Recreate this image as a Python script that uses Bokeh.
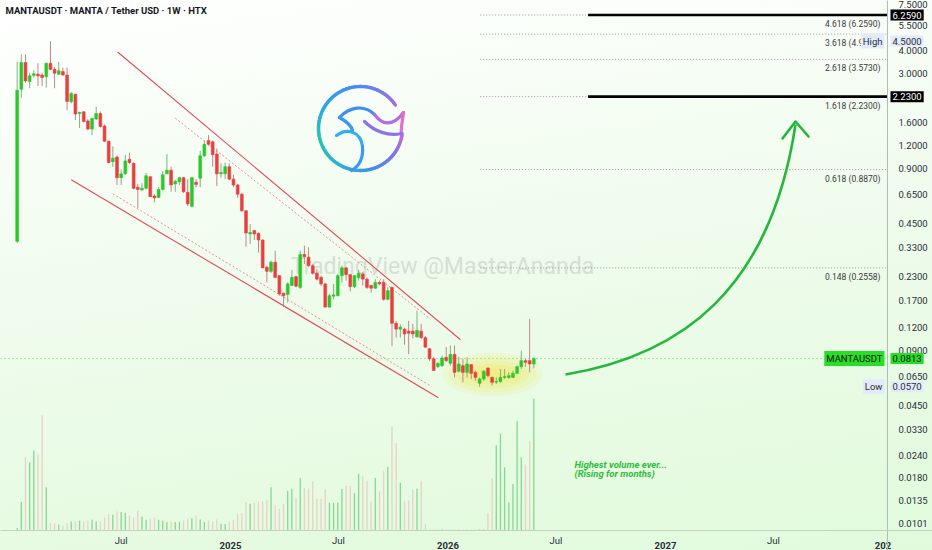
import math
import pandas as pd
from bokeh.plotting import figure
from bokeh.models import (Range1d, LinearScale, FixedTicker, PrintfTickFormatter,
                          ColumnDataSource, Label, Span)
from bokeh.core.properties import value
from bokeh.embed import file_html
from bokeh.resources import INLINE

# ---------------- MANTA / USDT weekly candles (HTX) ----------------
week_start = "2024-01-08"
opens = [0.358, 2.45, 3.43, 2.70, 2.92, 2.96, 2.93, 2.87, 3.40, 3.15,
         2.96, 3.06, 2.93, 2.09, 2.30, 1.80, 1.84, 1.64, 1.48, 1.68,
         1.80, 1.54, 1.27, 0.98, 1.04, 0.80, 0.84, 1.01, 0.96, 0.71,
         0.685, 0.70, 0.81, 0.635, 0.624, 0.69, 0.84, 0.88, 0.74, 0.76,
         0.80, 0.665, 0.557, 0.755, 0.796, 1.056, 1.28, 1.26, 1.08, 0.84,
         0.84, 0.92, 0.786, 0.73, 0.65, 0.527, 0.393, 0.41, 0.396, 0.364,
         0.258, 0.245, 0.275, 0.232, 0.186, 0.183, 0.205, 0.229, 0.200, 0.303,
         0.293, 0.263, 0.239, 0.227, 0.209, 0.156, 0.179, 0.180, 0.232, 0.256,
         0.235, 0.202, 0.227, 0.237, 0.222, 0.205, 0.198, 0.213, 0.213, 0.172,
         0.200, 0.127, 0.118, 0.118, 0.115, 0.115, 0.107, 0.115, 0.106, 0.092,
         0.081, 0.0735, 0.0743, 0.0826, 0.0766, 0.0857, 0.0692, 0.0743, 0.0683, 0.0753,
         0.0683, 0.0595, 0.0628, 0.0722, 0.0641, 0.0604, 0.0608, 0.0641, 0.0641, 0.0641,
         0.0675, 0.0734, 0.0792, 0.0792, 0.0759]
highs = [3.47, 3.81, 3.81, 3.02, 3.11, 3.40, 3.02, 3.43, 4.50, 3.25,
         3.46, 3.22, 3.22, 2.37, 2.31, 1.84, 1.86, 1.68, 1.71, 1.96,
         1.85, 1.57, 1.28, 1.19, 1.06, 0.89, 1.07, 1.10, 0.97, 0.74,
         0.745, 0.85, 0.82, 0.65, 0.71, 0.87, 1.08, 0.92, 0.78, 0.81,
         0.81, 0.786, 0.81, 0.786, 1.124, 1.28, 1.37, 1.28, 1.16, 0.96,
         0.97, 0.96, 0.83, 0.74, 0.66, 0.53, 0.446, 0.415, 0.40, 0.368,
         0.263, 0.281, 0.318, 0.232, 0.186, 0.213, 0.249, 0.232, 0.318, 0.339,
         0.332, 0.269, 0.252, 0.232, 0.211, 0.184, 0.209, 0.237, 0.263, 0.260,
         0.237, 0.234, 0.249, 0.242, 0.227, 0.207, 0.222, 0.218, 0.222, 0.200,
         0.202, 0.131, 0.125, 0.120, 0.131, 0.126, 0.149, 0.126, 0.108, 0.093,
         0.083, 0.0776, 0.0845, 0.094, 0.096, 0.096, 0.0833, 0.081, 0.0826, 0.0759,
         0.0698, 0.0641, 0.0704, 0.0728, 0.0647, 0.0641, 0.0713, 0.0713, 0.0683, 0.0698,
         0.0743, 0.090, 0.081, 0.134, 0.0826]
lows = [0.350, 2.20, 2.66, 2.48, 2.84, 2.55, 2.55, 2.50, 3.12, 2.48,
        2.94, 2.90, 1.88, 2.05, 1.66, 1.50, 1.61, 1.46, 1.37, 1.66,
        1.51, 1.26, 0.96, 0.92, 0.73, 0.73, 0.83, 0.95, 0.69, 0.545,
        0.68, 0.69, 0.63, 0.586, 0.62, 0.68, 0.84, 0.67, 0.67, 0.73,
        0.66, 0.56, 0.55, 0.71, 0.71, 1.04, 1.20, 0.92, 0.72, 0.80,
        0.786, 0.776, 0.71, 0.62, 0.52, 0.335, 0.346, 0.364, 0.311, 0.255,
        0.213, 0.240, 0.225, 0.180, 0.156, 0.165, 0.203, 0.200, 0.196, 0.269,
        0.260, 0.235, 0.218, 0.203, 0.155, 0.155, 0.172, 0.179, 0.213, 0.218,
        0.190, 0.198, 0.218, 0.205, 0.196, 0.187, 0.196, 0.205, 0.169, 0.170,
        0.095, 0.106, 0.106, 0.097, 0.086, 0.105, 0.106, 0.104, 0.093, 0.079,
        0.0698, 0.0722, 0.0735, 0.0776, 0.0743, 0.0641, 0.0683, 0.0602, 0.0641, 0.0628,
        0.0615, 0.0570, 0.0615, 0.0641, 0.0578, 0.0590, 0.0598, 0.0628, 0.0628, 0.0636,
        0.0669, 0.0713, 0.0734, 0.0683, 0.0720]
closes = [2.42, 3.43, 2.72, 2.90, 2.98, 2.90, 2.84, 3.40, 3.15, 3.00,
          3.09, 2.93, 2.10, 2.32, 1.79, 1.83, 1.63, 1.48, 1.69, 1.80,
          1.53, 1.27, 0.97, 1.025, 0.80, 0.84, 0.99, 0.97, 0.70, 0.69,
          0.70, 0.82, 0.63, 0.62, 0.69, 0.83, 0.88, 0.73, 0.765, 0.80,
          0.67, 0.574, 0.80, 0.735, 1.056, 1.22, 1.22, 1.07, 0.84, 0.855,
          0.92, 0.786, 0.73, 0.65, 0.527, 0.398, 0.40, 0.393, 0.364, 0.256,
          0.245, 0.275, 0.227, 0.184, 0.180, 0.209, 0.227, 0.203, 0.303, 0.295,
          0.263, 0.239, 0.222, 0.209, 0.156, 0.180, 0.182, 0.232, 0.256, 0.235,
          0.202, 0.232, 0.239, 0.222, 0.200, 0.198, 0.213, 0.209, 0.172, 0.192,
          0.127, 0.118, 0.121, 0.111, 0.112, 0.111, 0.116, 0.106, 0.094, 0.081,
          0.070, 0.0766, 0.0819, 0.0792, 0.0857, 0.0683, 0.0759, 0.0683, 0.0759, 0.0675,
          0.0641, 0.0628, 0.0692, 0.0655, 0.0602, 0.0608, 0.0641, 0.0647, 0.0655, 0.0675,
          0.0734, 0.0792, 0.0776, 0.0759, 0.0813]
weekly_volume = [7, 85, 219, 204, 239, 227, 345, 129,
                 22, 22, 17, 15, 22, 27, 27, 29, 27, 29,
                 32, 27, 27, 39, 49, 47, 57, 55, 52, 45,
                 39, 59, 42, 32, 35, 39, 32, 29, 25, 27,
                 25, 25, 29, 35, 37, 45, 33, 25, 29, 27,
                 33, 20, 19, 25, 32, 49, 52, 85, 80, 82,
                 87, 87, 92, 129, 75, 64, 79, 119, 125, 97,
                 157, 127, 125, 147, 95, 95, 123, 83, 83, 83,
                 124, 134, 134, 111, 170, 162, 149, 87, 157, 117,
                 177, 191, 312, 262, 143, 87, 90, 122, 125, 147,
                 19,
                 2, 2, 2, 3, 2, 2, 2, 2, 2, 2, 2, 2, 3, 3,
                 52, 157, 255, 290, 189, 84, 139, 327, 219, 197, 267, 395]

# ---------------- axis ticks ----------------
price_ticks = [7.5, 5.5, 4.0, 3.0, 1.6, 1.2, 0.9, 0.65, 0.45, 0.33, 0.23, 0.17,
               0.12, 0.09, 0.065, 0.045, 0.033, 0.024, 0.018, 0.0135, 0.0101]
year_ticks = ["2025-01-01", "2026-01-01", "2027-01-01", "2028-01-01"]
year_labels = ["2025", "2026", "2027", "202"]
month_ticks = ["2024-07-01", "2025-07-01", "2026-07-01", "2027-07-01"]
month_labels = ["Jul", "Jul", "Jul", "Jul"]

# ---------------- drawings ----------------
fib_ratios = [0.148, 0.618, 1.618, 2.618, 3.618, 4.618]
fib_prices = [0.2558, 0.8870, 2.2300, 3.5730, 4.9160, 6.2590]
fib_start = "2026-02-24"
target_prices = [2.2300, 6.2590]
target_start = "2026-08-24"

last_price = 0.0813
high_price = 4.5000
low_price = 0.0570

channel_dates = [["2024-06-25", "2026-01-22"], ["2024-04-08", "2025-12-16"]]
channel_prices = [[3.92, 0.1032], [0.779, 0.0496]]
inner_dates = [["2024-09-30", "2025-12-02"], ["2024-06-17", "2025-12-02"]]
inner_prices = [[1.70, 0.1346], [0.653, 0.0577]]


def dec_year(d):
    d = pd.Timestamp(d)
    jan1 = pd.Timestamp(year=d.year, month=1, day=1)
    return d.year + (d - jan1).days / (366 if d.is_leap_year else 365)


FONT = "Roboto"
GREEN, RED = "#2bc72b", "#e8403f"
GREEN_WICK, RED_WICK = "#7fb27f", "#c48686"
VOL_GREEN, VOL_RED = "#86d993", "#e8d3c6"
TEXT = "#2a2e39"

dates = pd.date_range(week_start, periods=len(opens), freq="7D")
xs = [dec_year(d) for d in dates]
up = [c >= o for o, c in zip(opens, closes)]
week = 7 / 365.25

src = ColumnDataSource(dict(
    x=xs, o=opens, h=highs, l=lows, c=closes,
    top=[max(o, c) for o, c in zip(opens, closes)],
    bottom=[min(o, c) for o, c in zip(opens, closes)],
    color=[GREEN if u else RED for u in up],
    wick=[GREEN_WICK if u else RED_WICK for u in up],
    vol=weekly_volume,
    vcolor=[VOL_GREEN if u else VOL_RED for u in up],
))

# the frame spans the whole canvas; the price and time axes sit at fixed positions in it
x_lo, x_hi = 2023.9425, 2028.2276
x_edge = 2028.0207          # price-scale position
y_lo, y_hi = 0.007184, 7.52
y_edge = 0.00925            # time-scale position

p = figure(width=932, height=550, output_backend="svg", toolbar_location=None,
           x_range=Range1d(x_lo, x_hi), y_range=Range1d(y_lo, y_hi),
           y_axis_type="log", y_axis_location="right",
           min_border_left=0, min_border_top=0, min_border_right=0, min_border_bottom=0)
p.extra_x_ranges = {"px": Range1d(0, 932)}
p.extra_y_ranges = {"px": Range1d(550, 0), "vol": Range1d(-60, 1586)}
p.extra_x_scales = {"px": LinearScale()}
p.extra_y_scales = {"px": LinearScale(), "vol": LinearScale()}

p.background_fill_alpha = 0
p.border_fill_alpha = 0
p.outline_line_color = None
p.grid.visible = False
p.styles = {"background": "linear-gradient(172deg, #ffffff 0%, #f9fef8 18%, #f0fcee 45%, #e8fbe4 72%, #e1fadc 100%)"}

# scale separators
p.add_layout(Span(location=x_edge, dimension="height", line_color="#b4bdb4", line_width=1))
p.add_layout(Span(location=y_edge, dimension="width", line_color="#c3d3c0", line_width=1))

# axes
ya = p.yaxis[0]
ya.fixed_location = x_edge
ya.ticker = FixedTicker(ticks=price_ticks)
ya.formatter = PrintfTickFormatter(format="%.4f")
ya.major_tick_line_color = None
ya.minor_tick_line_color = None
ya.axis_line_color = "#b4bdb4"
ya.major_label_text_font = FONT
ya.major_label_text_font_size = "9.5px"
ya.major_label_text_color = TEXT
ya.major_label_standoff = 5

xa = p.xaxis[0]
xa.fixed_location = y_edge
xa.ticker = FixedTicker(ticks=[dec_year(d) for d in year_ticks])
xa.major_label_overrides = {dec_year(d): t for d, t in zip(year_ticks, year_labels)}
xa.major_tick_line_color = None
xa.minor_tick_line_color = None
xa.axis_line_color = "#c3d3c0"
xa.major_label_text_font = FONT
xa.major_label_text_font_size = "9.5px"
xa.major_label_text_font_style = "bold"
xa.major_label_text_color = TEXT
xa.major_label_standoff = 5

for d, t in zip(month_ticks, month_labels):
    p.add_layout(Label(x=dec_year(d), y=540, y_range_name="px", text=t,
                       text_align="center", text_baseline="middle",
                       text_font=FONT, text_font_size="9.5px", text_color=TEXT))

# volume
p.vbar(x="x", width=0.32 * week, top="vol", bottom=0, fill_color="vcolor",
       line_color=None, y_range_name="vol", source=src)

# watermark
p.text(x=[442], y=[266], text=["TradingView @MasterAnanda"], x_range_name="px", y_range_name="px",
       text_align="center", text_baseline="middle", text_font=value(FONT),
       text_font_size="23px", text_color="#d4e1d2")

# logo ring with colour sweep (open towards the upper right where the tail leaves)
stops = [(34, "#a66de3"), (70, "#6a80f2"), (105, "#3f8ff5"), (150, "#2ba6e6"), (195, "#27c4ae"),
         (240, "#2bb4d2"), (285, "#3d8ff2"), (320, "#7b75ee"), (353, "#c06bdc")]


def mix(c0, c1, t):
    a = [int(c0[i:i + 2], 16) for i in (1, 3, 5)]
    b = [int(c1[i:i + 2], 16) for i in (1, 3, 5)]
    return "#%02x%02x%02x" % tuple(round(a[k] + (b[k] - a[k]) * t) for k in range(3))


cx, cy, rr = 360, 128, 42
seg_x, seg_y, seg_c = [], [], []
ang = 34
while ang < 353:
    a1 = min(ang + 4, 353)
    mid = (ang + a1) / 2
    for (s0, c0), (s1, c1) in zip(stops[:-1], stops[1:]):
        if s0 <= mid <= s1:
            col = mix(c0, c1, (mid - s0) / (s1 - s0))
    seg_x.append([cx + rr * math.cos(math.radians(ang)), cx + rr * math.cos(math.radians(a1))])
    seg_y.append([cy - rr * math.sin(math.radians(ang)), cy - rr * math.sin(math.radians(a1))])
    seg_c.append(col)
    ang = a1
p.multi_line(xs=seg_x, ys=seg_y, line_color=seg_c, line_width=3.4, line_cap="round",
             x_range_name="px", y_range_name="px")

logo_strokes = [
    # crest
    ((339, 117), (349, 106), (364, 104), (374, 114), "#3f8ef5"),
    ((374, 114), (381, 124), (392, 127), (403, 112), "#b56be1"),
    # tail underside back into the ring
    ((403, 112), (402, 121), (400, 128), (401, 133), "#e070c8"),
    ((401, 133), (388, 136), (374, 131), (364, 121), "#8d72ec"),
    # inner notch
    ((339, 117), (346, 121), (351, 125), (352, 130), "#3b98f0"),
    # lower hook running down into the ring
    ((336, 135), (347, 127), (360, 131), (362, 146), "#32aeea"),
    ((362, 146), (363, 158), (358, 166), (351, 170), "#3a98f0"),
]
for s, c0, c1, e, col in logo_strokes:
    p.bezier(x0=[s[0]], y0=[s[1]], cx0=[c0[0]], cy0=[c0[1]], cx1=[c1[0]], cy1=[c1[1]],
             x1=[e[0]], y1=[e[1]], line_color=col, line_width=3.2, line_cap="round",
             x_range_name="px", y_range_name="px")

# falling channel
p.multi_line(xs=[[dec_year(d) for d in pair] for pair in channel_dates], ys=channel_prices,
             line_color="#e5495a", line_width=1.1)
p.multi_line(xs=[[dec_year(d) for d in pair] for pair in inner_dates], ys=inner_prices,
             line_color="#e98f97", line_width=1, line_dash="2 2")

# fibonacci extension levels
fx0 = dec_year(fib_start)
n = len(fib_prices)
p.segment(x0=[fx0] * n, y0=fib_prices, x1=[x_edge] * n, y1=fib_prices,
          line_color="#9a9a9a", line_width=1, line_dash="1 2")
tx0 = dec_year(target_start)
m = len(target_prices)
p.segment(x0=[tx0] * m, y0=target_prices, x1=[x_edge] * m, y1=target_prices,
          line_color="#000000", line_width=2.6)
p.text(x=[880] * n, y=fib_prices, x_range_name="px",
       text=["%.3f (%.4f)" % (r, v) for r, v in zip(fib_ratios, fib_prices)],
       text_align="right", text_baseline="middle", y_offset=9,
       text_font=value(FONT), text_font_size="8.5px", text_color="#3a3a3a")

# last price line
p.segment(x0=[x_lo], y0=[last_price], x1=[x_edge], y1=[last_price],
          line_color="#55d055", line_width=1, line_dash="1 3")

# rounded-bottom highlight
for w, h, a in [(100, 44, 0.11), (88, 36, 0.13), (74, 28, 0.16), (58, 20, 0.19), (40, 12, 0.21)]:
    p.ellipse(x=[492], y=[374], width=[w], height=[h], fill_color="#f2e640", fill_alpha=a,
              line_color=None, x_range_name="px", y_range_name="px")

# candles
p.segment(x0="x", y0="l", x1="x", y1="h", line_color="wick", line_width=1, source=src)
p.vbar(x="x", width=0.68 * week, top="top", bottom="bottom", fill_color="color",
       line_color="color", line_width=0.6, source=src)

# projected move arrow
ARROW = "#26b63c"
p.bezier(x0=[565], y0=[374], cx0=[680], cy0=[355], cx1=[770], cy1=[290], x1=[795], y1=[124],
         line_color=ARROW, line_width=2.6, x_range_name="px", y_range_name="px")
p.multi_line(xs=[[782, 795, 808]], ys=[[138, 121, 136]], line_color=ARROW, line_width=2.6,
             line_join="round", line_cap="round", x_range_name="px", y_range_name="px")

for txt, yy in [("Highest volume ever...", 464), ("(Rising for months)", 473)]:
    p.add_layout(Label(x=574, y=yy, x_range_name="px", y_range_name="px", text=txt,
                       text_align="left", text_baseline="middle", text_font=FONT,
                       text_font_size="9.5px", text_font_style="bold italic", text_color="#2dbd3c"))

# title
p.add_layout(Label(x=5, y=10, x_range_name="px", y_range_name="px",
                   text="MANTAUSDT \u00b7 MANTA / Tether USD \u00b7 1W \u00b7 HTX",
                   text_align="left", text_baseline="middle", text_font=FONT,
                   text_font_size="9.5px", text_font_style="bold", text_color="#131722"))


# price-scale tags
def tag(x, y, text, bg, fg, align="left"):
    p.add_layout(Label(x=x, y=y, x_range_name="px", text=text, text_align=align,
                       text_baseline="middle", text_font=FONT, text_font_size="9.5px",
                       text_color=fg, background_fill_color=bg, padding=2))


for v in target_prices:
    tag(890, v, "%.4f" % v, "#000000", "#ffffff")
tag(890, high_price, "%.4f" % high_price, "#e3eafa", TEXT)
tag(884, high_price, "High", "#e3eafa", TEXT, "right")
tag(890, low_price, "%.4f" % low_price, "#e3eafa", TEXT)
tag(884, low_price, "Low", "#e3eafa", TEXT, "right")
tag(890, last_price, "%.4f" % last_price, "#27df27", "#111111")
tag(884, last_price, "MANTAUSDT", "#27df27", "#111111", "right")

open("out.html", "w").write(file_html(p, INLINE))
